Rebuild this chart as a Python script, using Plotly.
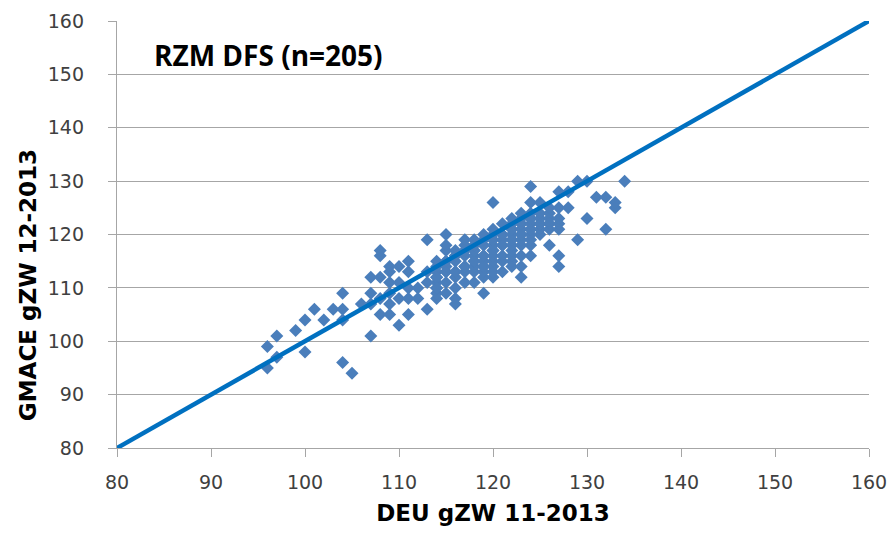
import plotly.graph_objects as go

# DEU gZW 11-2013 (x) and GMACE gZW 12-2013 (y), grouped by x value
columns = {
    96: [95, 99],
    97: [97, 101],
    99: [102],
    100: [98, 104],
    101: [106],
    102: [104],
    103: [106],
    104: [96, 104, 106, 109],
    105: [94],
    106: [107],
    107: [101, 107, 109, 112],
    108: [105, 108, 112, 116, 117],
    109: [105, 107, 109, 111, 113, 114],
    110: [103, 108, 111, 114],
    111: [105, 108, 110, 113, 115],
    112: [108, 110],
    113: [106, 111, 113, 119],
    114: [108, 109, 110, 111, 112, 113, 114, 115, 112, 110],
    115: [109, 111, 113, 114, 115, 117, 118, 120, 113, 115],
    116: [107, 108, 110, 112, 113, 115, 116, 117, 113, 116],
    117: [111, 113, 114, 116, 117, 118, 119, 114, 117],
    118: [111, 113, 114, 115, 116, 117, 118, 119, 115, 117, 118],
    119: [109, 112, 113, 114, 115, 116, 118, 119, 120, 114, 116],
    120: [112, 113, 114, 115, 116, 117, 118, 119, 120, 121, 126, 117, 119],
    121: [113, 115, 116, 118, 119, 120, 122, 118, 120],
    122: [114, 115, 116, 117, 118, 119, 120, 121, 122, 123, 119, 121],
    123: [112, 114, 116, 118, 119, 120, 121, 122, 123, 124, 120, 122],
    124: [116, 118, 119, 120, 121, 122, 123, 124, 126, 129, 121, 123],
    125: [120, 121, 122, 123, 124, 126, 122],
    126: [118, 121, 122, 123, 124, 125, 122],
    127: [114, 116, 121, 122, 123, 125, 128],
    128: [125, 128],
    129: [119, 130],
    130: [123, 130],
    131: [127],
    132: [121, 127],
    133: [125, 126],
    134: [130],
}

x_vals = [x for x, ys in columns.items() for _ in ys]
y_vals = [y for ys in columns.values() for y in ys]

line_x = [80, 160]
line_y = [80, 160]

title_text = "RZM DFS (n=205)"
x_title = "DEU gZW 11-2013"
y_title = "GMACE gZW 12-2013"
ticks = [80, 90, 100, 110, 120, 130, 140, 150, 160]

fig = go.Figure()
fig.add_trace(go.Scatter(
    x=x_vals, y=y_vals, mode="markers",
    marker=dict(symbol="diamond", size=10, color="#4A7EBB", line=dict(width=0)),
    showlegend=False, hoverinfo="x+y"))
fig.add_trace(go.Scatter(
    x=line_x, y=line_y, mode="lines",
    line=dict(color="#0070C0", width=4.5),
    showlegend=False, hoverinfo="skip"))

axis_font = dict(family="DejaVu Sans, Arial", size=19, color="#404040")
title_font = dict(family="DejaVu Sans, Arial", size=23, color="#000000")

fig.update_layout(
    width=889, height=536,
    margin=dict(l=117, r=20, t=21, b=88),
    paper_bgcolor="white", plot_bgcolor="white",
    xaxis=dict(
        range=[80, 160], tickvals=ticks, showgrid=False, zeroline=False,
        showline=True, linecolor="#A6A6A6", linewidth=1.3,
        ticks="outside", ticklen=8, tickcolor="#A6A6A6", tickwidth=1,
        tickfont=axis_font, ticklabelstandoff=9, ticklabeloverflow="allow",
        automargin=False,
        title=dict(text="<b>" + x_title + "</b>", font=title_font, standoff=12),
    ),
    yaxis=dict(
        range=[80, 160], tickvals=ticks, showgrid=True, gridcolor="#A6A6A6", gridwidth=1.3,
        zeroline=False, showline=True, linecolor="#A6A6A6", linewidth=1.3,
        ticks="outside", ticklen=8, tickcolor="#A6A6A6", tickwidth=1,
        tickfont=axis_font, ticklabelstandoff=20, ticklabeloverflow="allow",
        automargin=False,
    ),
    annotations=[
        dict(text="<b>" + title_text + "</b>", xref="paper", yref="paper",
             x=0.046, y=0.92, xanchor="left", yanchor="middle", showarrow=False,
             font=dict(family="Open Sans, Lato, Arial", size=28, color="#000000")),
        dict(text="<b>" + y_title + "</b>", xref="paper", yref="paper",
             x=-0.118, y=0.382, xanchor="center", yanchor="middle", showarrow=False,
             textangle=-90, font=title_font),
    ],
)

fig.write_html("out.html")
